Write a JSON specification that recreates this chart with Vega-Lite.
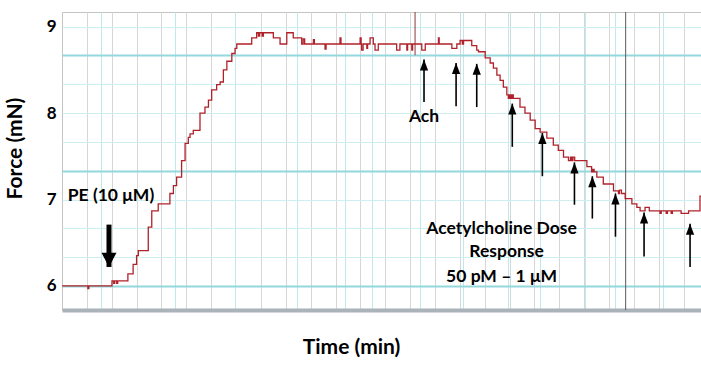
{
  "$schema": "https://vega.github.io/schema/vega-lite/v6.json",
  "width": 639,
  "height": 298,
  "autosize": {"type": "none"},
  "padding": {"left": 62, "top": 12, "right": 0, "bottom": 60},
  "background": "white",
  "config": {"view": {"stroke": "#c4c4c4", "strokeWidth": 1}},
  "datasets": {
    "trace": [
      {"t": 0, "v": 6.0}, {"t": 1.04, "v": 5.97}, {"t": 1.08, "v": 6.0},
      {"t": 2.01, "v": 6.06}, {"t": 2.08, "v": 6.03}, {"t": 2.12, "v": 6.06}, {"t": 2.2, "v": 6.03}, {"t": 2.24, "v": 6.06},
      {"t": 2.65, "v": 6.14}, {"t": 2.86, "v": 6.25}, {"t": 3.0, "v": 6.35}, {"t": 3.07, "v": 6.41},
      {"t": 3.47, "v": 6.68}, {"t": 3.61, "v": 6.87}, {"t": 3.87, "v": 6.95}, {"t": 4.34, "v": 7.07},
      {"t": 4.48, "v": 7.16}, {"t": 4.61, "v": 7.26}, {"t": 4.81, "v": 7.45}, {"t": 4.95, "v": 7.65},
      {"t": 5.08, "v": 7.72}, {"t": 5.15, "v": 7.76}, {"t": 5.28, "v": 7.8}, {"t": 5.55, "v": 8.0},
      {"t": 5.75, "v": 8.07}, {"t": 5.89, "v": 8.15}, {"t": 6.02, "v": 8.27}, {"t": 6.22, "v": 8.33},
      {"t": 6.36, "v": 8.36}, {"t": 6.49, "v": 8.5}, {"t": 6.63, "v": 8.6}, {"t": 6.83, "v": 8.69},
      {"t": 6.96, "v": 8.75}, {"t": 7.03, "v": 8.8},
      {"t": 7.63, "v": 8.87}, {"t": 7.83, "v": 8.93}, {"t": 7.9, "v": 8.89}, {"t": 7.95, "v": 8.93}, {"t": 8.05, "v": 8.89}, {"t": 8.1, "v": 8.93},
      {"t": 8.5, "v": 8.87}, {"t": 8.77, "v": 8.8}, {"t": 9.04, "v": 8.93}, {"t": 9.3, "v": 8.87},
      {"t": 9.64, "v": 8.8}, {"t": 9.7, "v": 8.86}, {"t": 9.76, "v": 8.8}, {"t": 10.11, "v": 8.85}, {"t": 10.15, "v": 8.8},
      {"t": 10.58, "v": 8.74}, {"t": 10.62, "v": 8.8}, {"t": 11.18, "v": 8.87}, {"t": 11.22, "v": 8.8},
      {"t": 11.99, "v": 8.87}, {"t": 12.03, "v": 8.8}, {"t": 12.05, "v": 8.73}, {"t": 12.11, "v": 8.8},
      {"t": 12.26, "v": 8.75}, {"t": 12.29, "v": 8.8}, {"t": 12.39, "v": 8.87}, {"t": 12.52, "v": 8.8},
      {"t": 12.59, "v": 8.73}, {"t": 12.72, "v": 8.8}, {"t": 13.46, "v": 8.73}, {"t": 13.59, "v": 8.8},
      {"t": 13.87, "v": 8.73}, {"t": 13.9, "v": 8.8}, {"t": 14.07, "v": 8.73}, {"t": 14.1, "v": 8.8},
      {"t": 14.47, "v": 8.73}, {"t": 14.61, "v": 8.8}, {"t": 15.14, "v": 8.87}, {"t": 15.17, "v": 8.8},
      {"t": 15.68, "v": 8.75}, {"t": 15.88, "v": 8.8}, {"t": 16.01, "v": 8.84}, {"t": 16.1, "v": 8.8}, {"t": 16.15, "v": 8.84}, {"t": 16.48, "v": 8.78},
      {"t": 16.68, "v": 8.73}, {"t": 16.75, "v": 8.71}, {"t": 17.02, "v": 8.64}, {"t": 17.22, "v": 8.58},
      {"t": 17.35, "v": 8.52}, {"t": 17.49, "v": 8.44}, {"t": 17.62, "v": 8.38}, {"t": 17.75, "v": 8.3},
      {"t": 17.89, "v": 8.21}, {"t": 17.95, "v": 8.17}, {"t": 18.0, "v": 8.21}, {"t": 18.05, "v": 8.17}, {"t": 18.1, "v": 8.21}, {"t": 18.15, "v": 8.17},
      {"t": 18.42, "v": 8.07}, {"t": 18.62, "v": 8.0}, {"t": 18.83, "v": 7.92}, {"t": 19.03, "v": 7.82},
      {"t": 19.23, "v": 7.78}, {"t": 19.5, "v": 7.71}, {"t": 19.76, "v": 7.63}, {"t": 19.96, "v": 7.57},
      {"t": 20.17, "v": 7.49}, {"t": 20.37, "v": 7.45}, {"t": 20.45, "v": 7.49}, {"t": 20.5, "v": 7.45}, {"t": 20.55, "v": 7.49}, {"t": 20.62, "v": 7.45},
      {"t": 21.11, "v": 7.38}, {"t": 21.3, "v": 7.32}, {"t": 21.35, "v": 7.35}, {"t": 21.4, "v": 7.32},
      {"t": 21.51, "v": 7.26}, {"t": 21.77, "v": 7.18}, {"t": 22.18, "v": 7.1}, {"t": 22.38, "v": 7.07},
      {"t": 22.42, "v": 7.11}, {"t": 22.5, "v": 7.07}, {"t": 22.65, "v": 7.01}, {"t": 22.92, "v": 6.95},
      {"t": 23.12, "v": 6.91}, {"t": 23.25, "v": 6.87}, {"t": 23.45, "v": 6.91}, {"t": 23.62, "v": 6.87},
      {"t": 24.05, "v": 6.84}, {"t": 24.1, "v": 6.87}, {"t": 24.3, "v": 6.84}, {"t": 24.35, "v": 6.87},
      {"t": 24.5, "v": 6.84}, {"t": 24.55, "v": 6.87}, {"t": 24.9, "v": 6.84}, {"t": 25.2, "v": 6.87},
      {"t": 25.66, "v": 7.04}, {"t": 25.7, "v": 7.04}
    ],
    "markers": [
      {"t": 14.2, "v": 9.17, "v2": 8.67, "kind": "event"},
      {"t": 22.67, "v": 9.17, "v2": 5.722, "kind": "cursor"}
    ],
    "ach": [
      {"t": 14.56, "v": 8.62, "v2": 8.13},
      {"t": 15.85, "v": 8.58, "v2": 8.08},
      {"t": 16.68, "v": 8.57, "v2": 8.07},
      {"t": 18.11, "v": 8.11, "v2": 7.61},
      {"t": 19.32, "v": 7.77, "v2": 7.27},
      {"t": 20.61, "v": 7.43, "v2": 6.94},
      {"t": 21.33, "v": 7.27, "v2": 6.78},
      {"t": 22.26, "v": 7.07, "v2": 6.57},
      {"t": 23.41, "v": 6.85, "v2": 6.34},
      {"t": 25.26, "v": 6.72, "v2": 6.22}
    ],
    "pe": [{"t": 1.89, "v": 6.22, "v2": 6.71}],
    "notes": [
      {"t": 1.97, "v": 7.04, "text": "PE (10 μM)"},
      {"t": 14.56, "v": 7.96, "text": "Ach"},
      {"t": 17.68, "v": 6.66, "text": "Acetylcholine Dose"},
      {"t": 17.88, "v": 6.39, "text": "Response"},
      {"t": 17.68, "v": 6.1, "text": "50 pM – 1 μM"}
    ]
  },
  "encoding": {
    "x": {
      "field": "t", "type": "quantitative",
      "scale": {"domain": [0, 25.7], "nice": false, "zero": false},
      "axis": {
        "values": [1,1.57,2,3,4,4.55,5,6,6.96,8,9,9.45,10,11,11.38,12,12.47,13,14,14.4,15,16,16.13,17,17.94,18,19,19.23,20,21,21.04,22,22.24,23,24,24.18,25],
        "grid": true,
        "gridColor": {"condition": {"test": "indexof([1.57,4.55,6.96,9.45,11.38,12.47,14.4,16.13,17.94,19.23,21.04,22.24,24.18], datum.value) >= 0", "value": "#bfe9ec"}, "value": "#d6d6d6"},
        "gridWidth": 1,
        "labels": false, "ticks": false,
        "domain": true, "domainColor": "#aab2ba", "domainWidth": 4,
        "title": "Time (min)", "titleFont": "Lato", "titleFontSize": 21, "titleFontWeight": "bold",
        "titleColor": "black", "titlePadding": 26, "titleX": 289
      }
    },
    "y": {
      "field": "v", "type": "quantitative",
      "scale": {"domain": [5.722, 9.17], "nice": false, "zero": false},
      "axis": {
        "values": [6, 6.3333, 6.6667, 7, 7.3333, 7.6667, 8, 8.3333, 8.6667, 9],
        "labelExpr": "abs(datum.value - round(datum.value)) < 0.01 ? format(datum.value, 'd') : ''",
        "grid": true,
        "gridColor": {"condition": {"test": "abs(datum.value - 6) < 0.01 || abs(datum.value - 7.3333) < 0.01 || abs(datum.value - 8.6667) < 0.01", "value": "#93d8dc"}, "value": "#cdeff1"},
        "gridWidth": {"condition": {"test": "abs(datum.value - 6) < 0.01 || abs(datum.value - 7.3333) < 0.01 || abs(datum.value - 8.6667) < 0.01", "value": 2}, "value": 1},
        "ticks": false, "domain": false,
        "labelFont": "Lato", "labelFontSize": 17, "labelFontWeight": "bold", "labelColor": "black", "labelPadding": 6,
        "title": "Force (mN)", "titleFont": "Lato", "titleFontSize": 21, "titleFontWeight": "bold",
        "titleColor": "black", "titlePadding": 21, "titleY": 136
      }
    }
  },
  "layer": [
    {
      "data": {"name": "markers"},
      "mark": {"type": "rule", "strokeWidth": 1},
      "encoding": {
        "y2": {"field": "v2"},
        "color": {"field": "kind", "type": "nominal", "scale": {"domain": ["event", "cursor"], "range": ["#8a3a3a", "#5a5a5a"]}, "legend": null}
      }
    },
    {
      "data": {"name": "trace"},
      "mark": {"type": "line", "interpolate": "step-after", "color": "#b0222a", "strokeWidth": 1.3},
      "encoding": {}
    },
    {
      "data": {"name": "ach"},
      "mark": {"type": "rule", "color": "black", "strokeWidth": 1.6},
      "encoding": {"y2": {"field": "v2"}}
    },
    {
      "data": {"name": "ach"},
      "mark": {"type": "point", "filled": true, "color": "black", "opacity": 1, "size": 121, "strokeWidth": 0, "shape": "M0,0 L0.75,2 L-0.75,2 Z"},
      "encoding": {}
    },
    {
      "data": {"name": "pe"},
      "mark": {"type": "rule", "color": "black", "strokeWidth": 5},
      "encoding": {"y2": {"field": "v2"}}
    },
    {
      "data": {"name": "pe"},
      "mark": {"type": "point", "filled": true, "color": "black", "opacity": 1, "size": 225, "strokeWidth": 0, "shape": "M0,0 L-1,-1.9 L1,-1.9 Z"},
      "encoding": {}
    },
    {
      "data": {"name": "notes"},
      "mark": {"type": "text", "font": "Lato", "fontSize": 17.5, "fontWeight": "bold", "color": "black", "align": "center", "baseline": "middle"},
      "encoding": {"text": {"field": "text"}}
    }
  ]
}
